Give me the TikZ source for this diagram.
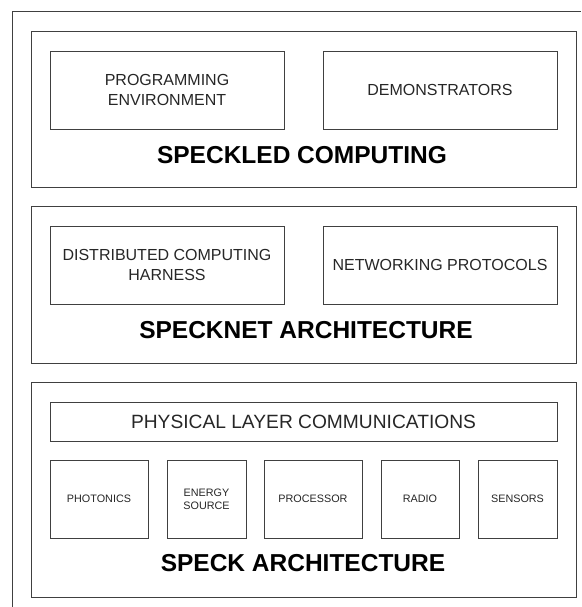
\documentclass[tikz,border=0pt]{standalone}
\usepackage{fontspec}
\setmainfont{Liberation Sans}
\usetikzlibrary{positioning}
\definecolor{linegray}{gray}{0.25}
\definecolor{textgray}{gray}{0.15}
\begin{document}
\begin{tikzpicture}[x=1pt,y=-1pt,
    panel/.style={draw=linegray,line width=0.8pt,inner sep=0pt,minimum width=545pt},
    block/.style={draw=linegray,line width=0.8pt,inner sep=0pt,align=center,text=textgray,
      font=\fontsize{16}{20}\selectfont,minimum width=234pt,minimum height=78pt},
    part/.style={block,font=\fontsize{10.8}{13}\selectfont,minimum height=78pt},
    title/.style={inner sep=0pt,font=\fontsize{24.5}{28}\selectfont\bfseries}]
  \useasboundingbox (0,0) rectangle (581,607);
  % outer frame (only top and left are visible)
  \draw [linegray,line width=0.8pt] (12,607) -- (12,11) -- (581,11);
  % top layer
  \node [panel,minimum height=156pt] (computing) at (303.5,109) {};
  \node [block] (progenv) at (167,90) {PROGRAMMING\\ENVIRONMENT};
  \node [block] (demos) at (440,90) {DEMONSTRATORS};
  \node [title] (computingtitle) at (302,155) {SPECKLED COMPUTING};
  % middle layer
  \node [panel,minimum height=157pt] (specknet) at (303.5,284.5) {};
  \node [block] (harness) at (167,265) {DISTRIBUTED COMPUTING\\HARNESS};
  \node [block] (protocols) at (440,265) {NETWORKING PROTOCOLS};
  \node [title] (specknettitle) at (306,330) {SPECKNET ARCHITECTURE};
  % bottom layer
  \node [panel,minimum height=215pt] (speck) at (303.5,489.5) {};
  \node [block,minimum width=507pt,minimum height=39pt,font=\fontsize{19.2}{22}\selectfont] (phys) at (303.5,421.5) {PHYSICAL LAYER COMMUNICATIONS};
  \node [part,minimum width=98pt] (photonics) at (99,499) {PHOTONICS};
  \node [part,minimum width=79pt] (energy) at (206.5,499) {ENERGY\\SOURCE};
  \node [part,minimum width=98pt] (processor) at (313,499) {PROCESSOR};
  \node [part,minimum width=78pt] (radio) at (420,499) {RADIO};
  \node [part,minimum width=79pt] (sensors) at (517.5,499) {SENSORS};
  \node [title] (specktitle) at (303,563) {SPECK ARCHITECTURE};
\end{tikzpicture}
\end{document}
